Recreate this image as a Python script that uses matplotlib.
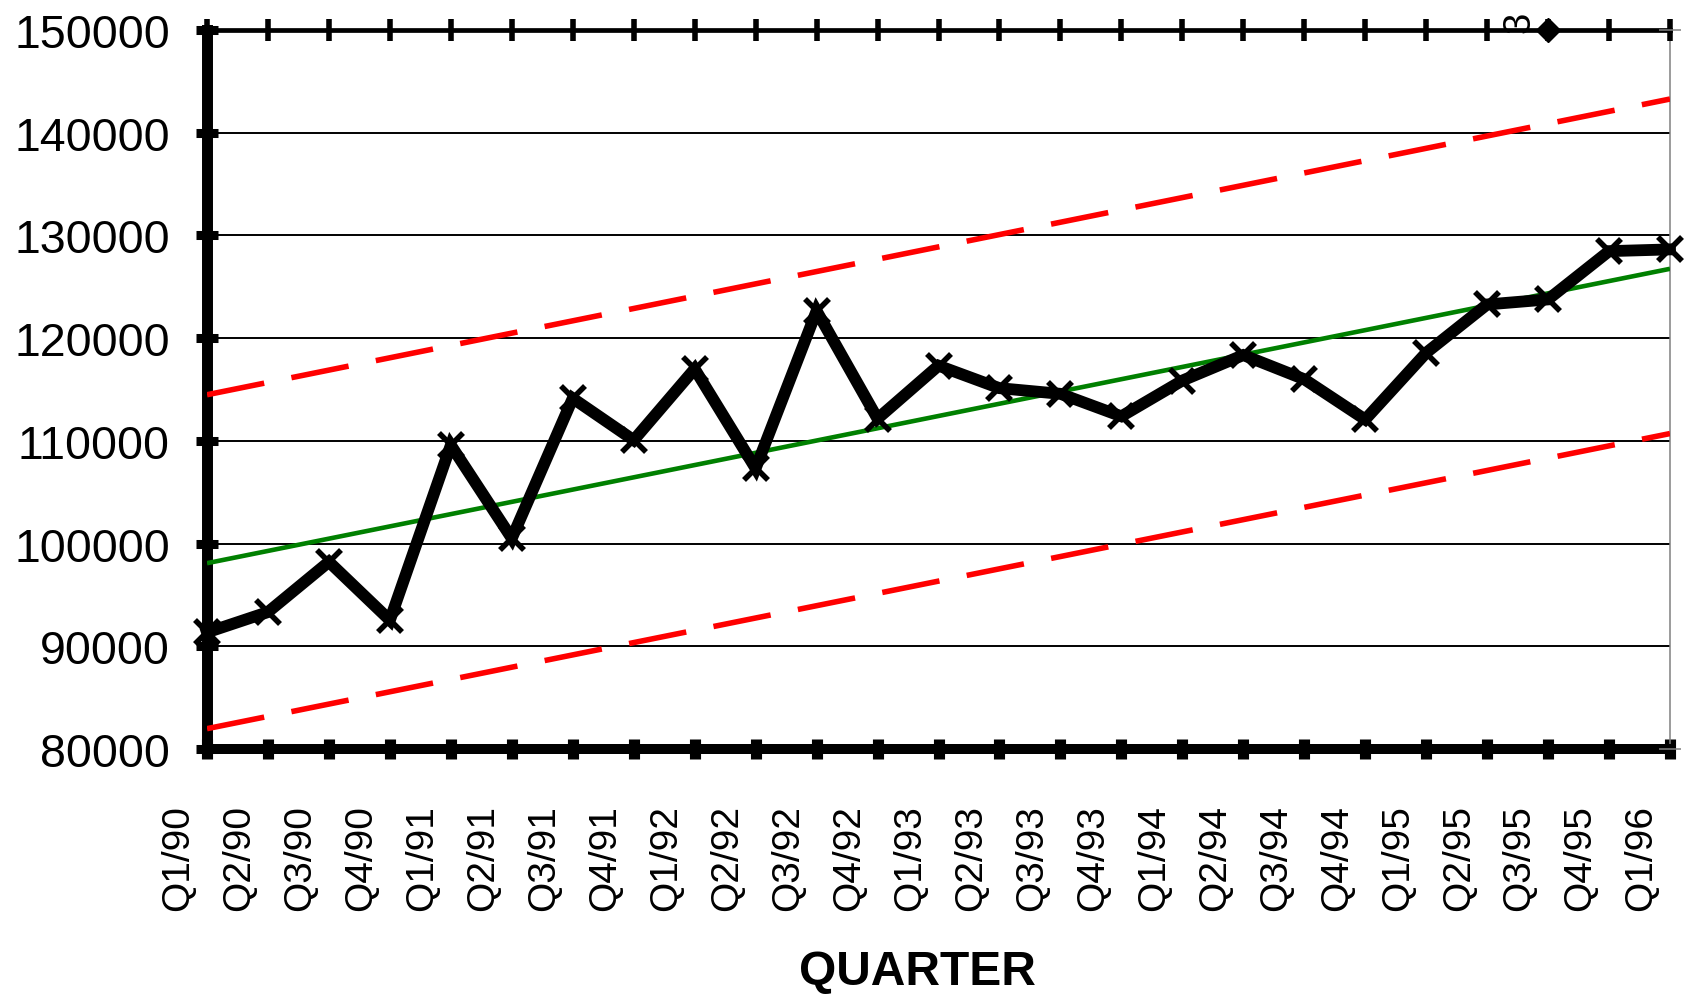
import matplotlib
matplotlib.use('Agg')
import matplotlib.pyplot as plt
from matplotlib.transforms import offset_copy, blended_transform_factory

plt.rcParams['font.family'] = ['Liberation Sans', 'DejaVu Sans']

# ---------------- data ----------------
quarters = ['Q1/90', 'Q2/90', 'Q3/90', 'Q4/90', 'Q1/91', 'Q2/91', 'Q3/91', 'Q4/91',
            'Q1/92', 'Q2/92', 'Q3/92', 'Q4/92', 'Q1/93', 'Q2/93', 'Q3/93', 'Q4/93',
            'Q1/94', 'Q2/94', 'Q3/94', 'Q4/94', 'Q1/95', 'Q2/95', 'Q3/95', 'Q4/95',
            'Q1/96']
values = [91350, 93330, 98220, 92540, 109580, 100510, 114140, 110070,
          117000, 107320, 122650, 112160, 117320, 115130, 114580, 112390,
          115870, 118350, 116000, 112080, 118570, 123280, 123770, 128470,
          128640]
# straight lines given by their values at the first and last quarter
trend_values = [98090, 126750]
upper_values = [114490, 143280]
lower_values = [81980, 110710]
# stray marker and label at the top of the chart
marker_quarter = 'Q3/95'
marker_value = 150000
stray_label = '3'
yticks = [80000, 90000, 100000, 110000, 120000, 130000, 140000, 150000]
xlabel = 'QUARTER'

# ---------------- figure ----------------
fig = plt.figure(figsize=(16.91, 10.03), dpi=100)
ax = fig.add_axes([207 / 1691, 1 - 750 / 1003, (1670 - 207) / 1691, (750 - 31) / 1003])

x = list(range(len(quarters)))
end_x = [x[0], x[-1]]

ax.set_xlim(x[0], x[-1])
ax.set_ylim(yticks[0], yticks[-1])

ax.yaxis.grid(True, color='black', lw=1.4)
ax.set_axisbelow(True)

ax.plot(end_x, trend_values, color='#008000', lw=3.3, zorder=3, solid_capstyle='butt')
ax.plot(end_x, upper_values, color='red', lw=4.0, ls=(0, (10.5, 5.0)), zorder=3,
        dash_capstyle='butt')
ax.plot(end_x, lower_values, color='red', lw=4.0, ls=(0, (10.5, 5.0)), zorder=3,
        dash_capstyle='butt')
ax.plot(x, values, color='black', lw=8.5, marker='x', ms=17, mew=4.0,
        clip_on=False, zorder=5, solid_joinstyle='miter')

mi = quarters.index(marker_quarter)
ax.plot([mi], [marker_value], marker='D', ms=12, color='black', clip_on=False, zorder=10)
ax.text(mi, marker_value, stray_label, rotation=90, fontsize=27.5, ha='center', va='bottom',
        transform=offset_copy(ax.transData, fig=fig, x=-28.3, y=-2, units='dots'),
        clip_on=False, zorder=9)

# spines
ax.spines['left'].set_linewidth(7.9)
ax.spines['bottom'].set_linewidth(7.2)
ax.spines['top'].set_visible(False)
ax.spines['right'].set_color('#808080')
ax.spines['right'].set_linewidth(1.1)

# ticks
ax.set_xticks(x)
ax.tick_params(axis='x', direction='inout', length=15, width=8, color='black',
               labelbottom=False, top=False)
ax.set_yticks(yticks)
ax.set_yticklabels([str(v) for v in yticks])
ax.tick_params(axis='y', direction='inout', length=16, width=6.5, labelsize=33.5,
               pad=18.7, right=False)

# x labels (offset like the original)
tr = offset_copy(blended_transform_factory(ax.transData, ax.transAxes), fig=fig,
                 x=-28.5, y=-55, units='dots')
for xi, lab in zip(x, quarters):
    ax.text(xi, 0, lab, rotation=90, fontsize=28, ha='center', va='top',
            transform=tr, clip_on=False)

# top axis
ax2 = ax.twiny()
ax2.set_xlim(x[0], x[-1])
ax2.set_xticks(x)
ax2.tick_params(axis='x', top=True, bottom=False, direction='inout', length=15.6,
                width=4, labeltop=False, color='black')
for s in ['left', 'right', 'bottom']:
    ax2.spines[s].set_visible(False)
ax2.spines['top'].set_linewidth(3.4)
ax2.spines['top'].set_color('black')

# right axis ticks
ax3 = ax.twinx()
ax3.set_ylim(yticks[0], yticks[-1])
ax3.set_yticks([yticks[0], yticks[-1]])
ax3.tick_params(axis='y', right=True, left=False, direction='inout', length=15.6,
                width=1.1, color='#808080', labelright=False)
for s in ['left', 'right', 'bottom', 'top']:
    ax3.spines[s].set_visible(False)

fig.text(917 / 1691, 1 - 973 / 1003, xlabel, fontsize=34.5, fontweight='bold',
         ha='center', va='center')

fig.savefig('out.png', dpi=100)
